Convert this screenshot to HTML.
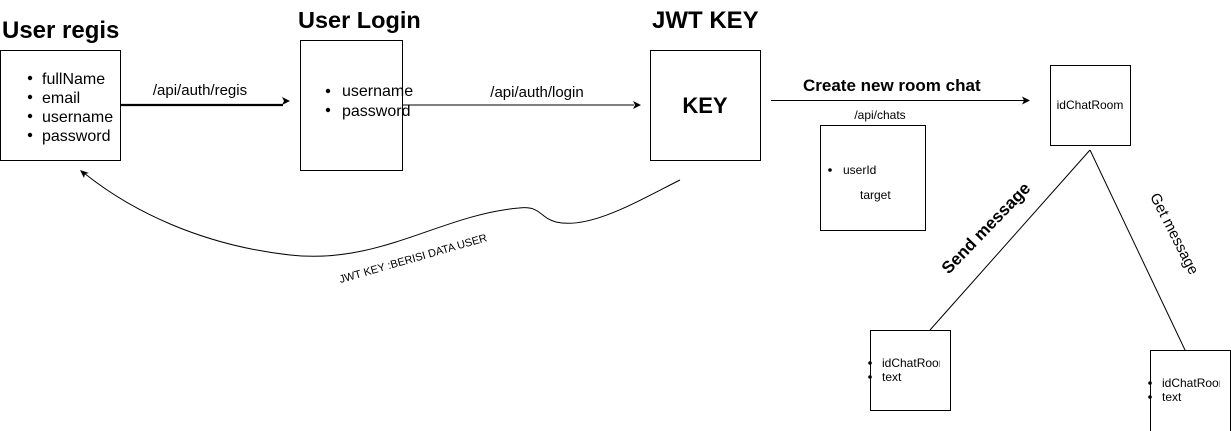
<!DOCTYPE html>
<html><head><meta charset="utf-8"><style>html,body{margin:0;padding:0;background:#fff;}svg{display:block}</style></head>
<body>
<svg width="1231" height="431" viewBox="0 0 1231 431" xmlns="http://www.w3.org/2000/svg" font-family="Liberation Sans, Arial, sans-serif">
<rect width="1231" height="431" fill="#fff"/>
<g fill="none" stroke="#000" stroke-width="1">
<rect x="0.5" y="50.5" width="120" height="110"/>
<rect x="300.5" y="40.5" width="102" height="130"/>
<rect x="650.5" y="50.5" width="110" height="110"/>
<rect x="820.5" y="125.5" width="105" height="105"/>
<rect x="1050.5" y="65.5" width="80" height="80"/>
<rect x="870.5" y="330.5" width="80" height="80"/>
<rect x="1150.5" y="350.5" width="80" height="85"/>
<line x1="120" y1="105" x2="283" y2="105" stroke-width="2.2"/>
<line x1="402" y1="105" x2="634" y2="105"/>
<line x1="771" y1="100.5" x2="1024" y2="100.5"/>
<line x1="1090" y1="150" x2="930" y2="330"/>
<line x1="1090" y1="150" x2="1185" y2="350"/>
<path d="M680 180 C 640 200, 590 230, 556 222 C 540 218, 540 205, 519 208 C 440 215, 380 265, 290 255 C 200 245, 130 210, 84 173"/>
</g>
<g fill="#000">
<path d="M290 101 L282 97 L284 101 L282 105 Z"/>
<path d="M641 105 L633 101 L635 105 L633 109 Z"/>
<path d="M1030 100.5 L1022 96.5 L1024 100.5 L1022 104.5 Z"/>
<path d="M80 170 L89 173 L85 174 L84 178 Z"/>
</g>
<g font-weight="bold" fill="#000">
<text x="2" y="38" font-size="24">User regis</text>
<text x="298" y="28" font-size="23.5">User Login</text>
<text x="652" y="28" font-size="24">JWT KEY</text>
<text x="705" y="113" font-size="22" text-anchor="middle">KEY</text>
<text x="803" y="91" font-size="17">Create new room chat</text>
<text transform="translate(990,232) rotate(-46)" font-size="17" text-anchor="middle">Send message</text>
</g>
<g fill="#000" font-size="16">
<circle cx="30" cy="78" r="2.2"/><text x="42" y="84">fullName</text>
<circle cx="30" cy="97" r="2.2"/><text x="42" y="103">email</text>
<circle cx="30" cy="116" r="2.2"/><text x="42" y="122">username</text>
<circle cx="30" cy="135" r="2.2"/><text x="42" y="141">password</text>
<circle cx="328" cy="91" r="2.2"/><text x="342" y="96">username</text>
<circle cx="328" cy="110" r="2.2"/><text x="342" y="116">password</text>
</g>
<g fill="#000" font-size="15">
<text x="200" y="95" text-anchor="middle">/api/auth/regis</text>
<text x="537" y="97" text-anchor="middle">/api/auth/login</text>
<text transform="translate(1170,236) rotate(63)" text-anchor="middle">Get message</text>
</g>
<g fill="#000" font-size="12">
<text x="880" y="119" text-anchor="middle">/api/chats</text>
<circle cx="830" cy="170" r="1.8"/><text x="843" y="174">userId</text>
<text x="860" y="199">target</text>
<text x="1090" y="109" text-anchor="middle">idChatRoom</text>
<text transform="translate(414,262) rotate(-16)" font-size="11" text-anchor="middle">JWT KEY :BERISI DATA USER</text>
</g>
<svg x="865" y="350" width="75" height="40"><g fill="#000" font-size="12"><circle cx="5" cy="13" r="1.8"/><text x="17" y="17">idChatRoom</text><circle cx="5" cy="27" r="1.8"/><text x="17" y="31">text</text></g></svg>
<svg x="1145" y="370" width="75" height="40"><g fill="#000" font-size="12"><circle cx="5" cy="13" r="1.8"/><text x="17" y="17">idChatRoom</text><circle cx="5" cy="27" r="1.8"/><text x="17" y="31">text</text></g></svg>
</svg>
</body></html>
